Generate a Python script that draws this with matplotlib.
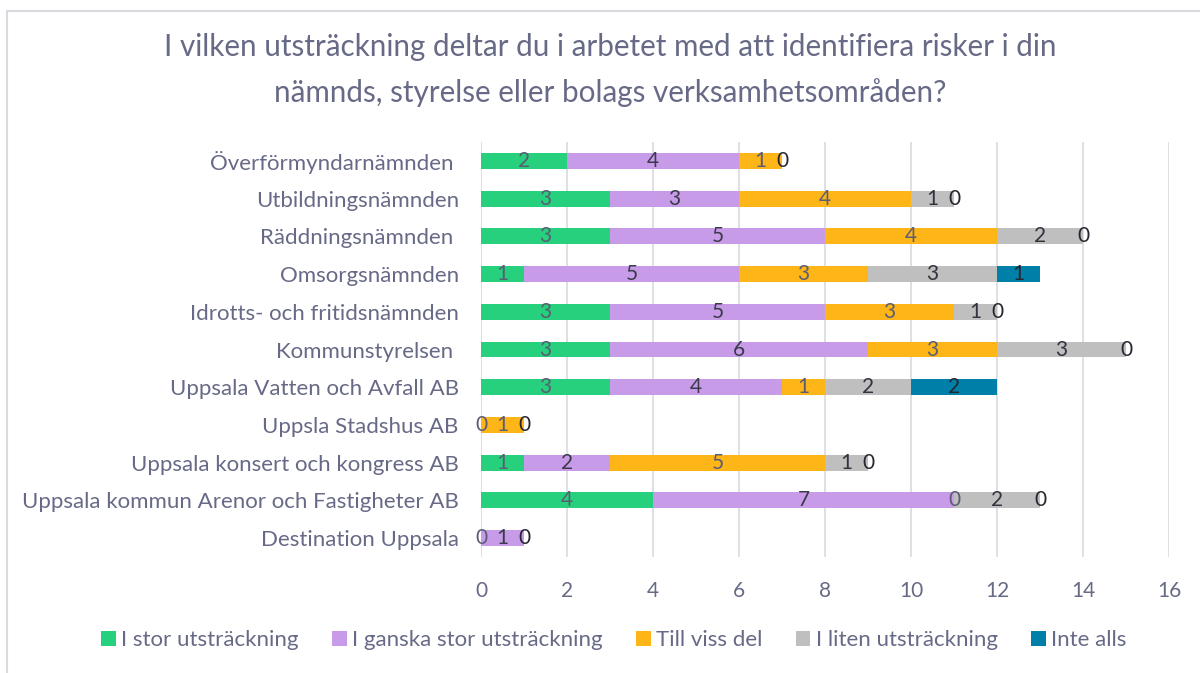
import numpy as np
import matplotlib.pyplot as plt
from matplotlib.patches import Patch
from matplotlib.lines import Line2D

# categories, bottom to top (barh draws the first one at the bottom)
categories = [
    "Destination Uppsala",
    "Uppsala kommun Arenor och Fastigheter AB",
    "Uppsala konsert och kongress AB",
    "Uppsla Stadshus AB",
    "Uppsala Vatten och Avfall AB",
    "Kommunstyrelsen ",
    "Idrotts- och fritidsnämnden",
    "Omsorgsnämnden",
    "Räddningsnämnden ",
    "Utbildningsnämnden",
    "Överförmyndarnämnden ",
]

# nan = no value (no bar, no label)
nan = np.nan
stor = [0, 4, 1, 0, 3, 3, 3, 1, 3, 3, 2]
ganska = [1, 7, 2, nan, 4, 6, 5, 5, 5, 3, 4]
viss = [nan, 0, 5, 1, 1, 3, 3, 3, 4, 4, 1]
liten = [nan, 2, 1, nan, 2, 3, 1, 3, 2, 1, nan]
inte = [0, 0, 0, 0, 2, 0, 0, 1, 0, 0, 0]

series_names = ["I stor utsträckning", "I ganska stor utsträckning",
                "Till viss del", "I liten utsträckning", "Inte alls"]
colors = ["#27D07D", "#C89BE9", "#FDB518", "#BFBFBF", "#0080A9"]
label_colors = ["#5A5D75", "#3A3A4A", "#5A5D75", "#333340", "#262630"]

text_color = "#676A86"
font = "Lato"


def plot_chart():
    fig = plt.figure(figsize=(12, 6.73), dpi=100)
    ax = fig.add_axes([481 / 1200, 1 - 557 / 673, 688 / 1200, 415 / 673])

    y = np.arange(len(categories))
    left = np.zeros(len(categories))
    for vals, name, col, lcol in zip([stor, ganska, viss, liten, inte],
                                     series_names, colors, label_colors):
        v = np.array(vals, dtype=float)
        w = np.nan_to_num(v)
        ax.barh(y, w, left=left, height=0.42, color=col, zorder=2)
        for yi, (li, vi) in enumerate(zip(left, v)):
            if np.isnan(vi):
                continue
            ax.text(li + vi / 2, yi, f"{int(vi)}", ha="center", va="center",
                    fontsize=15, color=lcol, family=font, zorder=3)
        left += w

    ax.set_xlim(0, 16)
    ax.set_ylim(-0.5, len(categories) - 0.5)
    ax.set_xticks(range(0, 17, 2))
    ax.set_yticks(y)
    ax.set_yticklabels(categories)
    ax.grid(axis="x", color="#DCDCE4", linewidth=1.3, zorder=0)
    for s in ax.spines.values():
        s.set_visible(False)
    ax.tick_params(length=0, labelsize=15, labelcolor=text_color)
    ax.tick_params(axis="y", pad=16, labelsize=16)
    ax.tick_params(axis="x", pad=17)
    for t in ax.get_xticklabels() + ax.get_yticklabels():
        t.set_family(font)

    fig.text(610 / 1200, 1 - 70 / 673,
             "I vilken utsträckning deltar du i arbetet med att identifiera risker i din\n"
             "nämnds, styrelse eller bolags verksamhetsområden?",
             ha="center", va="center", fontsize=21.3, color=text_color,
             family=font, linespacing=1.7)

    handles = [Patch(facecolor=c) for c in colors]
    fig.legend(handles, series_names, loc="center", ncol=5,
               bbox_to_anchor=(614 / 1200, 1 - 640 / 673), frameon=False,
               handlelength=0.65, handleheight=0.65, handletextpad=0.25,
               columnspacing=1.5, prop={"family": font, "size": 16},
               labelcolor=text_color)

    # chart border (only left and top edges are visible)
    fig.add_artist(Line2D([7 / 1200, 7 / 1200], [0, 1 - 11 / 673],
                          color="#D9D9E0", linewidth=1.5))
    fig.add_artist(Line2D([7 / 1200, 1], [1 - 11 / 673, 1 - 11 / 673],
                          color="#D9D9E0", linewidth=1.5))

    fig.savefig("out.png", dpi=100, facecolor="white")


if __name__ == '__main__':
    plot_chart()
